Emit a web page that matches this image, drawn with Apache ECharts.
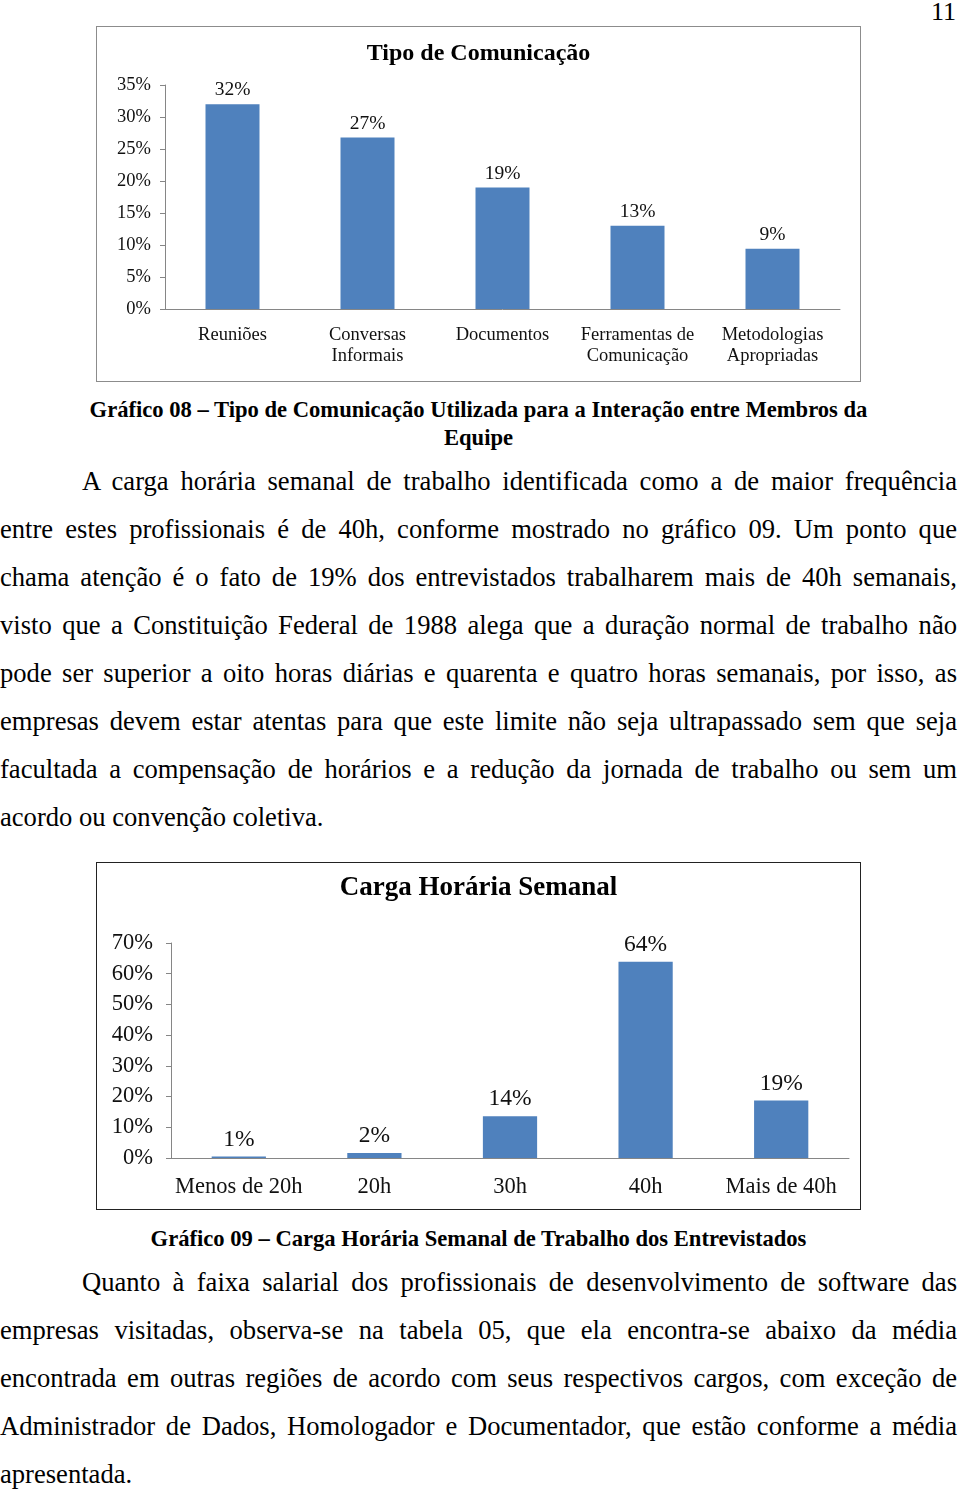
<!DOCTYPE html>
<html>
<head>
<meta charset="utf-8">
<script src="https://cdn.jsdelivr.net/npm/echarts@6/dist/echarts.min.js"></script>
<style>
  body { margin: 0; background: #fff; }
  .page { position: relative; width: 960px; height: 1493px; font-family: "Liberation Serif", "Times New Roman", serif; color: #000; overflow: hidden; }
  .ln { position: absolute; left: 0; width: 957px; height: 48px; line-height: 48px; font-size: 26.6px; white-space: nowrap; text-align: justify; text-align-last: justify; }
  .ln.first { left: 82px; width: 875px; }
  .ln.last { text-align-last: left; }
  .cap { position: absolute; left: 0; width: 957px; text-align: center; font-weight: bold; font-size: 22.6px; line-height: 28px; }
  .chart { position: absolute; left: 96px; width: 763px; box-sizing: content-box; }
  #chart1 { top: 26px; height: 354px; border: 1.5px solid #8c8c8c; }
  #chart2 { top: 862px; height: 346px; border: 1.5px solid #222; }
  .pnum { position: absolute; right: 4px; top: -2px; font-size: 26px; line-height: 28px; }
</style>
</head>
<body>
<div class="page">
  <div class="pnum">11</div>
  <div id="chart1" class="chart"></div>
  <div class="cap" style="top:396px">Gráfico 08 – Tipo de Comunicação Utilizada para a Interação entre Membros da<br>Equipe</div>

  <div class="ln first" style="top:457px">A carga horária semanal de trabalho identificada como a de maior frequência</div>
  <div class="ln" style="top:505px">entre estes profissionais é de 40h, conforme mostrado no gráfico 09. Um ponto que</div>
  <div class="ln" style="top:553px">chama atenção é o fato de 19% dos entrevistados trabalharem mais de 40h semanais,</div>
  <div class="ln" style="top:601px">visto que a Constituição Federal de 1988 alega que a duração normal de trabalho não</div>
  <div class="ln" style="top:649px">pode ser superior a oito horas diárias e quarenta e quatro horas semanais, por isso, as</div>
  <div class="ln" style="top:697px">empresas devem estar atentas para que este limite não seja ultrapassado sem que seja</div>
  <div class="ln" style="top:745px">facultada a compensação de horários e a redução da jornada de trabalho ou sem um</div>
  <div class="ln last" style="top:793px">acordo ou convenção coletiva.</div>

  <div id="chart2" class="chart"></div>
  <div class="cap" style="top:1225px">Gráfico 09 – Carga Horária Semanal de Trabalho dos Entrevistados</div>

  <div class="ln first" style="top:1258px">Quanto à faixa salarial dos profissionais de desenvolvimento de software das</div>
  <div class="ln" style="top:1306px">empresas visitadas, observa-se na tabela 05, que ela encontra-se abaixo da média</div>
  <div class="ln" style="top:1354px">encontrada em outras regiões de acordo com seus respectivos cargos, com exceção de</div>
  <div class="ln" style="top:1402px">Administrador de Dados, Homologador e Documentador, que estão conforme a média</div>
  <div class="ln last" style="top:1450px">apresentada.</div>
</div>

<script>
// Gráfico 08
const commTypes = ['Reuniões', 'Conversas\nInformais', 'Documentos', 'Ferramentas de\nComunicação', 'Metodologias\nApropriadas']
const commShare = [32, 26.8, 19, 13, 9.4]

// Gráfico 09
const workloads = ['Menos de 20h', '20h', '30h', '40h', 'Mais de 40h']
const workloadShare = [0.5, 1.6, 13.6, 63.9, 18.7]

const barColor = '#4f81bd'
const axisGrey = '#868686'
const serif = 'Liberation Serif'

function pct(p) {
    return Math.round(p.value) + '%'
}

const chart1 = echarts.init(document.getElementById('chart1'))
chart1.setOption({
    animation: false,
    title: {
        text: 'Tipo de Comunicação',
        left: 'center',
        top: 15,
        padding: 0,
        textStyle: {fontFamily: serif, fontSize: 24, fontWeight: 'bold', color: '#000'}
    },
    grid: {left: 68, right: 20, top: 58, bottom: 72},
    xAxis: {
        type: 'category',
        data: commTypes,
        axisLine: {lineStyle: {color: axisGrey}},
        axisTick: {show: false},
        axisLabel: {fontFamily: serif, fontSize: 18.5, color: '#111', margin: 16, lineHeight: 21, interval: 0}
    },
    yAxis: {
        type: 'value',
        min: 0,
        max: 35,
        interval: 5,
        splitLine: {show: false},
        axisLine: {show: true, lineStyle: {color: axisGrey}},
        axisTick: {show: true, length: 5, lineStyle: {color: axisGrey}},
        axisLabel: {formatter: '{value}%', fontFamily: serif, fontSize: 18.5, color: '#111', margin: 14}
    },
    series: [{
        type: 'bar',
        data: commShare,
        barWidth: '40%',
        itemStyle: {color: barColor},
        label: {show: true, position: 'top', distance: 4, formatter: pct, fontFamily: serif, fontSize: 19.5, color: '#111'}
    }]
})

const chart2 = echarts.init(document.getElementById('chart2'))
chart2.setOption({
    animation: false,
    title: {
        text: 'Carga Horária Semanal',
        left: 'center',
        top: 12,
        padding: 0,
        textStyle: {fontFamily: serif, fontSize: 27, fontWeight: 'bold', color: '#000'}
    },
    grid: {left: 74, right: 11, top: 80, bottom: 51},
    xAxis: {
        type: 'category',
        data: workloads,
        axisLine: {lineStyle: {color: axisGrey}},
        axisTick: {show: false},
        axisLabel: {fontFamily: serif, fontSize: 22.5, color: '#111', margin: 18, interval: 0}
    },
    yAxis: {
        type: 'value',
        min: 0,
        max: 70,
        interval: 10,
        splitLine: {show: false},
        axisLine: {show: true, lineStyle: {color: axisGrey}},
        axisTick: {show: true, length: 5, lineStyle: {color: axisGrey}},
        axisLabel: {formatter: '{value}%', fontFamily: serif, fontSize: 22.5, color: '#111', margin: 18}
    },
    series: [{
        type: 'bar',
        data: workloadShare,
        barWidth: '40%',
        itemStyle: {color: barColor},
        label: {show: true, position: 'top', distance: 5, formatter: pct, fontFamily: serif, fontSize: 23.5, color: '#111'}
    }]
})
</script>
</body>
</html>
